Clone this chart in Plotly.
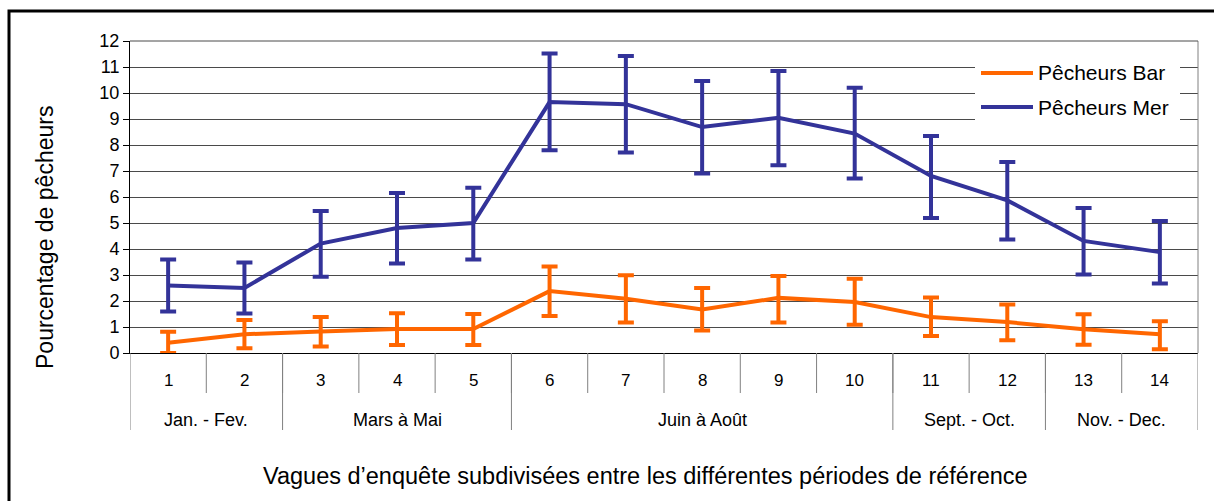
import plotly.graph_objects as go

# Survey waves and their reference periods
waves = [str(i) for i in range(1, 15)]
periods = ["Jan. - Fev.", "Mars à Mai", "Juin à Août", "Sept. - Oct.", "Nov. - Dec."]
period_sizes = [2, 3, 5, 2, 2]

# Percentage of sea-bass anglers (Pêcheurs Bar) with confidence bounds
bar = [0.39, 0.72, 0.83, 0.92, 0.92, 2.38, 2.09, 1.67, 2.12, 1.96, 1.38, 1.19, 0.91, 0.72]
bar_low = [0.0, 0.18, 0.25, 0.31, 0.31, 1.42, 1.17, 0.87, 1.17, 1.09, 0.65, 0.49, 0.32, 0.14]
bar_high = [0.82, 1.27, 1.38, 1.53, 1.50, 3.33, 2.99, 2.50, 2.96, 2.86, 2.13, 1.87, 1.49, 1.22]

# Percentage of sea anglers (Pêcheurs Mer) with confidence bounds
mer = [2.60, 2.50, 4.21, 4.81, 5.00, 9.65, 9.57, 8.69, 9.05, 8.44, 6.81, 5.87, 4.31, 3.88]
mer_low = [1.60, 1.52, 2.93, 3.44, 3.60, 7.80, 7.71, 6.90, 7.22, 6.71, 5.19, 4.37, 3.02, 2.67]
mer_high = [3.60, 3.48, 5.46, 6.15, 6.36, 11.52, 11.42, 10.46, 10.85, 10.20, 8.35, 7.35, 5.58, 5.08]

y_ticks = list(range(0, 13))

ORANGE = "#FF6600"
BLUE = "#333399"
GRID = "#4a4a4a"
SEP = "#808080"
FONT = "Liberation Sans, Arial, sans-serif"

W, H = 1214, 501
ML, MR, MT, MB = 130, 16, 41, 148
PW, PH = W - ML - MR, H - MT - MB


def xp(px):
    return (px - ML) / PW


def yp(py):
    return (H - MB - py) / PH


x = list(range(1, len(waves) + 1))


def series(name, vals, low, high, color):
    plus = [h - v for v, h in zip(vals, high)]
    minus = [v - l for v, l in zip(vals, low)]
    return go.Scatter(
        x=x, y=vals, name=name, mode="lines",
        line=dict(color=color, width=4),
        error_y=dict(type="data", symmetric=False, array=plus, arrayminus=minus,
                     color=color, thickness=4, width=8),
        cliponaxis=False, showlegend=False,
    )


fig = go.Figure()
fig.add_trace(series("Pêcheurs Bar", bar, bar_low, bar_high, ORANGE))
fig.add_trace(series("Pêcheurs Mer", mer, mer_low, mer_high, BLUE))

shapes = []
annotations = []

# Category axis: wave numbers with short separators
for i, w in enumerate(waves):
    annotations.append(dict(x=i + 1, xref="x", y=yp(380), yref="paper", text=w,
                            showarrow=False, font=dict(family=FONT, size=17, color="black"),
                            xanchor="center", yanchor="middle"))
for k in range(1, len(waves)):
    shapes.append(dict(type="line", xref="x", yref="paper", x0=k + 0.5, x1=k + 0.5,
                       y0=0, y1=yp(393), line=dict(color=SEP, width=1)))

# Period labels with long separators
start = 0
bounds = [0]
for name, n in zip(periods, period_sizes):
    annotations.append(dict(x=start + n / 2 + 0.5, xref="x", y=yp(420), yref="paper", text=name,
                            showarrow=False, font=dict(family=FONT, size=18, color="black"),
                            xanchor="center", yanchor="middle"))
    start += n
    bounds.append(start)
for b in bounds:
    shapes.append(dict(type="line", xref="x", yref="paper", x0=b + 0.5, x1=b + 0.5,
                       y0=yp(430), y1=0, line=dict(color=SEP, width=1)))
# Right edge of the plot area
shapes.append(dict(type="line", xref="paper", yref="paper", x0=1, x1=1, y0=0, y1=1,
                   line=dict(color=SEP, width=1)))
# Top edge
shapes.append(dict(type="line", xref="paper", yref="paper", x0=0, x1=1, y0=1, y1=1,
                   line=dict(color=GRID, width=1)))

# Legend
shapes.append(dict(type="rect", xref="paper", yref="paper", x0=xp(975), x1=xp(1180),
                   y0=yp(130), y1=yp(56), fillcolor="white", line=dict(width=0), layer="above"))
for name, color, py in [("Pêcheurs Bar", ORANGE, 73), ("Pêcheurs Mer", BLUE, 107)]:
    shapes.append(dict(type="line", xref="paper", yref="paper", x0=xp(981), x1=xp(1033),
                       y0=yp(py), y1=yp(py), line=dict(color=color, width=4), layer="above"))
    annotations.append(dict(x=xp(1036), xref="paper", y=yp(py), yref="paper", text=name,
                            showarrow=False, font=dict(family=FONT, size=21, color="black"),
                            xanchor="left", yanchor="middle"))

# Axis titles
annotations.append(dict(x=xp(45), xref="paper", y=yp(238), yref="paper",
                        text="Pourcentage de pêcheurs", textangle=-90, showarrow=False,
                        font=dict(family=FONT, size=23, color="black"),
                        xanchor="center", yanchor="middle"))
annotations.append(dict(x=xp(645), xref="paper", y=yp(476), yref="paper",
                        text="Vagues d’enquête subdivisées entre les différentes périodes de référence",
                        showarrow=False, font=dict(family=FONT, size=23.5, color="black"),
                        xanchor="center", yanchor="middle"))

# Outer frame
shapes.append(dict(type="rect", xref="paper", yref="paper", x0=xp(9), x1=xp(1240),
                   y0=yp(520), y1=yp(11), line=dict(color="black", width=3),
                   fillcolor="rgba(0,0,0,0)"))

fig.update_layout(
    width=W, height=H,
    margin=dict(l=ML, r=MR, t=MT, b=MB),
    paper_bgcolor="white", plot_bgcolor="white",
    showlegend=False,
    xaxis=dict(range=[0.5, 14.5], showgrid=False, zeroline=False, showticklabels=False,
               ticks="", showline=True, linecolor="black", linewidth=1, fixedrange=True),
    yaxis=dict(range=[0, 12], tickvals=y_ticks, showgrid=True, gridcolor=GRID, gridwidth=1,
               zeroline=False, showline=True, linecolor="black", linewidth=1,
               ticks="outside", ticklen=6, tickcolor="black",
               tickfont=dict(family=FONT, size=18, color="black"), fixedrange=True),
    shapes=shapes,
    annotations=annotations,
)

fig.write_html("out.html")
